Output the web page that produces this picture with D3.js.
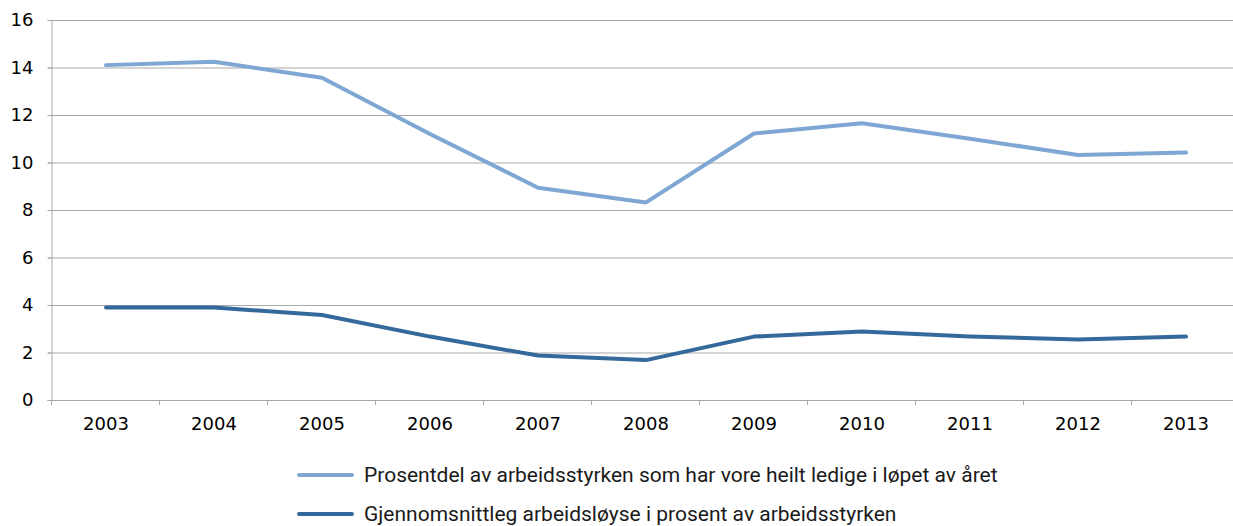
<!DOCTYPE html>
<html>
<head>
<meta charset="utf-8">
<script src="https://cdn.jsdelivr.net/npm/d3@7"></script>
<style>
  body { margin: 0; background: #fff; }
  svg { display: block; }
</style>
</head>
<body>
<svg id="chart" width="1233" height="526"></svg>
<script>
const years = ["2003","2004","2005","2006","2007","2008","2009","2010","2011","2012","2013"];
const shareEverUnemployed = [14.1, 14.24, 13.57, 11.2, 8.94, 8.32, 11.22, 11.65, 11.0, 10.32, 10.42];
const avgUnemployment = [3.89, 3.89, 3.58, 2.67, 1.87, 1.68, 2.67, 2.88, 2.67, 2.55, 2.67];
const yTicks = [0, 2, 4, 6, 8, 10, 12, 14, 16];
const seriesNames = [
  "Prosentdel av arbeidsstyrken som har vore heilt ledige i løpet av året",
  "Gjennomsnittleg arbeidsløyse i prosent av arbeidsstyrken"
];
const seriesColors = ["#7EA7D4", "#35699C"];

const svg = d3.select("#chart");
const plotLeft = 52, plotRight = 1240, plotTop = 20, plotBottom = 400;

const x = d3.scaleBand().domain(years).range([plotLeft, plotRight]).padding(0);
const y = d3.scaleLinear().domain([0, 16]).range([plotBottom, plotTop]);

// gridlines
svg.append("g")
  .selectAll("line")
  .data(yTicks.filter(d => d > 0))
  .join("line")
  .attr("x1", plotLeft - 4).attr("x2", 1233)
  .attr("y1", d => y(d) + 0.5).attr("y2", d => y(d) + 0.5)
  .attr("stroke", "#A9A9A9").attr("stroke-width", 1);

// y axis
const yAxis = svg.append("g")
  .attr("transform", `translate(${plotLeft - 0.5},0)`)
  .call(d3.axisLeft(y).tickValues(yTicks).tickSize(4).tickPadding(14).tickFormat(d3.format("d")));
yAxis.select(".domain").attr("stroke", "#A9A9A9");
yAxis.selectAll(".tick line").attr("stroke", "#A9A9A9");
yAxis.selectAll("text")
  .attr("font-family", "DejaVu Sans, Verdana, sans-serif")
  .attr("font-size", 18).attr("fill", "#000");
yAxis.selectAll(".tick").attr("transform", d => `translate(0,${y(d) + 0.5})`);

// x axis
const xAxis = svg.append("g")
  .attr("transform", `translate(0,${plotBottom + 0.5})`)
  .call(d3.axisBottom(x).tickSize(0).tickPadding(17));
xAxis.select(".domain").attr("stroke", "#A9A9A9").attr("d", `M${plotLeft - 0.5},0H1233`);
xAxis.selectAll("text")
  .attr("font-family", "DejaVu Sans, Verdana, sans-serif")
  .attr("font-size", 18).attr("fill", "#000");
// category boundary ticks
svg.append("g")
  .selectAll("line")
  .data(years)
  .join("line")
  .attr("x1", d => Math.round(x(d)) - 0.5).attr("x2", d => Math.round(x(d)) - 0.5)
  .attr("y1", plotBottom).attr("y2", plotBottom + 5)
  .attr("stroke", "#A9A9A9");

// lines
const lineGen = d3.line()
  .x((d, i) => x(years[i]) + x.bandwidth() / 2)
  .y(d => y(d));

[shareEverUnemployed, avgUnemployment].forEach((vals, i) => {
  svg.append("path")
    .datum(vals)
    .attr("d", lineGen)
    .attr("fill", "none")
    .attr("stroke", seriesColors[i])
    .attr("stroke-width", 4)
    .attr("stroke-linejoin", "round")
    .attr("stroke-linecap", "round");
});

// legend
const legend = svg.append("g");
seriesNames.forEach((name, i) => {
  const ly = 475 + i * 39;
  legend.append("line")
    .attr("x1", 299).attr("x2", 352)
    .attr("y1", ly).attr("y2", ly)
    .attr("stroke", seriesColors[i]).attr("stroke-width", 4)
    .attr("stroke-linecap", "round");
  legend.append("text")
    .attr("x", 364).attr("y", ly)
    .attr("dy", "0.35em")
    .attr("font-family", "Roboto, sans-serif")
    .attr("font-size", 21)
    .attr("fill", "#1a1a1a")
    .text(name);
});
</script>
</body>
</html>
